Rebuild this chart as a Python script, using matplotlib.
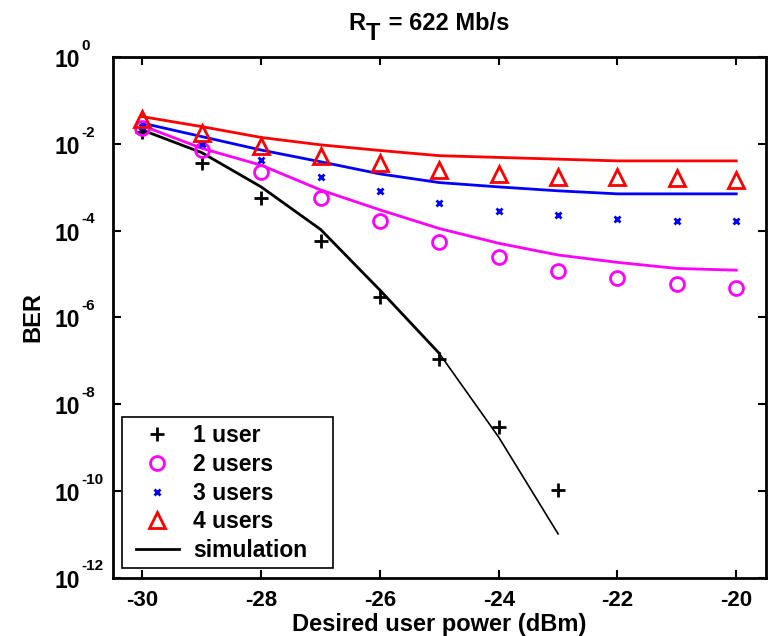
import numpy as np
import matplotlib
matplotlib.use("Agg")
import matplotlib.pyplot as plt
from matplotlib.patches import Rectangle

plt.rcParams['font.family'] = ['Liberation Sans', 'DejaVu Sans']
plt.rcParams['font.weight'] = 'bold'

# desired user power (dBm)
power = [-30, -29, -28, -27, -26, -25, -24, -23, -22, -21, -20]

user1_pts = [-1.72, -2.43, -3.24, -4.24, -5.53, -6.95, -8.53, -9.97]
user2_pts = [-1.64, -2.14, -2.65, -3.25, -3.77, -4.26, -4.60, -4.93, -5.10, -5.22, -5.31]
user3_pts = [-1.60, -2.00, -2.37, -2.75, -3.08, -3.36, -3.54, -3.64, -3.72, -3.78, -3.78]
user4_pts = [-1.43, -1.74, -2.05, -2.27, -2.45, -2.60, -2.69, -2.77, -2.77, -2.79, -2.83]

# simulation curves (log10 BER)
sim1 = [-1.68, -2.20, -2.99, -3.97, -5.37, -6.83, -8.76, -10.99]
sim2 = [-1.58, -2.10, -2.49, -3.06, -3.52, -3.95, -4.29, -4.56, -4.73, -4.87, -4.91]
sim3 = [-1.52, -1.83, -2.14, -2.41, -2.69, -2.89, -2.99, -3.08, -3.15, -3.15, -3.15]
sim4 = [-1.37, -1.60, -1.85, -2.02, -2.15, -2.27, -2.31, -2.35, -2.39, -2.39, -2.39]

xticks = [-30, -28, -26, -24, -22, -20]
yexp = [0, -2, -4, -6, -8, -10, -12]

def ber(v):
    return 10.0 ** np.array(v)

fig = plt.figure(figsize=(7.69, 6.36), dpi=100)
ax = fig.add_axes([0.1466, 0.0917, 0.8494, 0.8183])

x1 = power[:len(sim1)]
ax.plot(x1[:6], ber(sim1[:6]), color='black', lw=2.0)
ax.plot(x1[5:], ber(sim1[5:]), color='black', lw=1.2)
ax.plot(power, ber(sim2), color='magenta', lw=2.0)
ax.plot(power, ber(sim3), color='blue', lw=2.0)
ax.plot(power, ber(sim4), color='red', lw=2.0)

ax.plot(power[:len(user1_pts)], ber(user1_pts), '+', color='black', ms=10, mew=2, label='1 user')
ax.plot(power, ber(user2_pts), 'o', color='magenta', ms=10, mew=2, mfc='none', label='2 users')
ax.plot(power, ber(user3_pts), 'x', color='blue', ms=5, mew=2, label='3 users')
ax.plot(power, ber(user4_pts), '^', color='red', ms=12, mew=2, mfc='none', label='4 users')
ax.plot([], [], color='black', lw=2, label='simulation')

ax.set_yscale('log')
ax.set_xlim(-30.5, -19.5)
ax.set_ylim(1e-12, 1e0)
ax.set_xticks(xticks)
ax.set_xticklabels([str(v) for v in xticks])
ax.set_yticks([10.0 ** e for e in yexp])
ax.set_yticklabels([])
ax.minorticks_off()
ax.tick_params(direction='in', top=True, right=True, length=6, width=1.5,
               labelsize=16, pad=9)
for s in ax.spines.values():
    s.set_linewidth(2)

# MATLAB-style log tick labels: "10" left aligned, exponent raised
ytr = ax.get_yaxis_transform()
for e in yexp:
    ax.annotate('10', xy=(0, 10.0 ** e), xycoords=ytr, xytext=(-41.8, -7.2),
                textcoords='offset points', ha='left', va='baseline',
                fontsize=16.5, fontweight='bold', annotation_clip=False)
    ax.annotate(str(e), xy=(0, 10.0 ** e), xycoords=ytr, xytext=(-22.5, 5.2),
                textcoords='offset points', ha='left', va='baseline',
                fontsize=11, fontweight='bold', annotation_clip=False)

ax.set_xlabel('Desired user power (dBm)', fontsize=17, fontweight='bold', labelpad=1)
ax.set_ylabel('BER', fontsize=17, fontweight='bold', labelpad=40)

# title R_T = 622 Mb/s with a full size subscript
r = fig.text(0.4525, 0.953, 'R', fontsize=17, fontweight='bold', ha='left', va='baseline')
t = ax.annotate('T', xy=(1, 0), xycoords=r, xytext=(0.5, -7.2), textcoords='offset points',
                fontsize=17, fontweight='bold', ha='left', va='bottom')
ax.annotate(' = 622 Mb/s', xy=(1, 0), xycoords=t, xytext=(1.5, 7.2), textcoords='offset points',
            fontsize=17, fontweight='bold', ha='left', va='bottom', annotation_clip=False)

leg = ax.legend(loc='lower left', bbox_to_anchor=(0.035, 0.03), fontsize=16.5,
                frameon=False, borderaxespad=0, borderpad=0,
                handlelength=1.9, handletextpad=0.6, labelspacing=0.25)
ax.add_patch(Rectangle((0.0142, 0.0186), 0.323, 0.290, transform=ax.transAxes,
                       fill=False, edgecolor='black', lw=1.2, zorder=5))

fig.savefig('out.png', dpi=100)
